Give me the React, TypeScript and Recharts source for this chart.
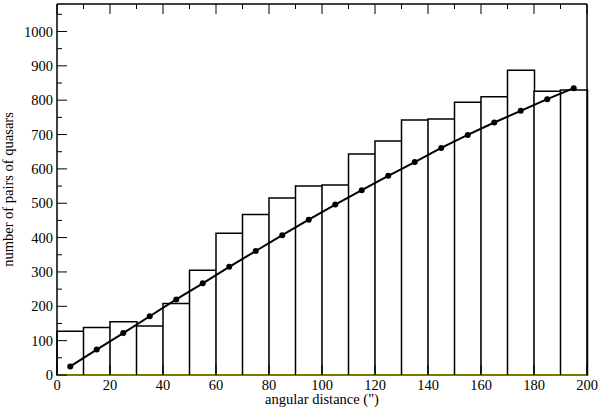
import { ComposedChart, Bar, Line, XAxis, YAxis, ReferenceLine, Label } from "recharts";

// bin centres, angular distance in arcsec (bins are 10" wide)
const binCenters = [5, 15, 25, 35, 45, 55, 65, 75, 85, 95, 105, 115, 125, 135, 145, 155, 165, 175, 185, 195];
// observed number of quasar pairs per bin
const pairCounts = [127, 138, 155, 143, 208, 305, 413, 467, 515, 550, 553, 643, 681, 742, 745, 794, 810, 887, 826, 830];
// expected (random) pairs, the fitted line
const expectedPairs = [25, 74, 122, 171, 220, 267, 315, 361, 407, 452, 496, 538, 580, 620, 661, 699, 735, 769, 803, 835];

const xTicks = [0, 10, 20, 30, 40, 50, 60, 70, 80, 90, 100, 110, 120, 130, 140, 150, 160, 170, 180, 190, 200];
const yTicks = [0, 50, 100, 150, 200, 250, 300, 350, 400, 450, 500, 550, 600, 650, 700, 750, 800, 850, 900, 950, 1000, 1050];

const data = binCenters.map((x, i) => ({ x, count: pairCounts[i], expected: expectedPairs[i] }));

const FONT = "'Liberation Serif', 'DejaVu Serif', serif";

function BottomTick({ x, y, payload }: any) {
  const major = payload.value % 20 === 0;
  return (
    <g>
      <line x1={x} y1={y} x2={x} y2={y - (major ? 10 : 5)} stroke="#000" strokeWidth={1} />
      {major && (
        <text x={x} y={y + 15} textAnchor="middle" fontFamily={FONT} fontSize={14.5} fill="#000">
          {payload.value}
        </text>
      )}
    </g>
  );
}

function TopTick({ x, y, payload }: any) {
  const major = payload.value % 20 === 0;
  return <line x1={x} y1={y} x2={x} y2={y + (major ? 10 : 5)} stroke="#000" strokeWidth={1} />;
}

function LeftTick({ x, y, payload }: any) {
  const major = payload.value % 100 === 0;
  return (
    <g>
      <line x1={x} y1={y} x2={x + (major ? 10 : 5)} y2={y} stroke="#000" strokeWidth={1} />
      {major && (
        <text x={x - 4} y={y} dy="0.35em" textAnchor="end" fontFamily={FONT} fontSize={14.5} fill="#000">
          {payload.value}
        </text>
      )}
    </g>
  );
}

function RightTick({ x, y, payload }: any) {
  const major = payload.value % 100 === 0;
  return <line x1={x} y1={y} x2={x - (major ? 10 : 5)} y2={y} stroke="#000" strokeWidth={1} />;
}

export default function App() {
  return (
    <div style={{ position: "absolute", left: 0, top: 0, background: "#fff" }}>
      <ComposedChart
        width={600}
        height={411}
        data={data}
        margin={{ top: 0, right: 0, bottom: 0, left: 0 }}
        barCategoryGap={0}
        barGap={0}
      >
        <XAxis xAxisId="num" dataKey="x" type="number" domain={[0, 200]} ticks={xTicks} height={36} tickSize={0}
          tickMargin={0} axisLine={{ stroke: "#808000", strokeWidth: 1.5 }} tickLine={false} tick={<BottomTick />} interval={0}>
          <Label
            content={({ viewBox }: any) => (
              <text x={viewBox.x + viewBox.width / 2} y={viewBox.y + 29} textAnchor="middle" fontFamily={FONT} fontSize={14.5} fill="#000">
                angular distance (")
              </text>
            )}
          />
        </XAxis>
        <XAxis xAxisId="top" orientation="top" dataKey="x" type="number" domain={[0, 200]} ticks={xTicks} height={4}
          tickSize={0} tickMargin={0} axisLine={{ stroke: "#000", strokeWidth: 1.5 }} tickLine={false} tick={<TopTick />} interval={0} />
        <XAxis xAxisId="cat" dataKey="x" type="category" hide height={0} />
        <YAxis yAxisId="y" type="number" domain={[0, 1080]} ticks={yTicks} width={57} tickSize={0} tickMargin={0}
          axisLine={{ stroke: "#000", strokeWidth: 1.5 }} tickLine={false} tick={<LeftTick />} interval={0}>
          <Label
            content={({ viewBox }: any) => (
              <text
                x={13}
                y={viewBox.y + viewBox.height / 2}
                transform={`rotate(-90, 13, ${viewBox.y + viewBox.height / 2})`}
                textAnchor="middle"
                fontFamily={FONT}
                fontSize={14.5}
                fill="#000"
              >
                number of pairs of quasars
              </text>
            )}
          />
        </YAxis>
        <YAxis yAxisId="yr" orientation="right" type="number" domain={[0, 1080]} ticks={yTicks} width={13} tickSize={0}
          tickMargin={0} axisLine={{ stroke: "#000", strokeWidth: 1.5 }} tickLine={false} tick={<RightTick />} interval={0} />

        <Bar xAxisId="cat" yAxisId="y" dataKey="count" fill="#fff" stroke="#000" strokeWidth={1.5} isAnimationActive={false} />
        <Line
          xAxisId="num"
          yAxisId="y"
          dataKey="expected"
          stroke="#000"
          strokeWidth={2}
          dot={{ r: 3, fill: "#000", stroke: "#000", strokeWidth: 0 }}
          isAnimationActive={false}
        />
        <ReferenceLine xAxisId="num" yAxisId="y" y={0} stroke="#808000" strokeWidth={1.5} />
      </ComposedChart>
    </div>
  );
}
